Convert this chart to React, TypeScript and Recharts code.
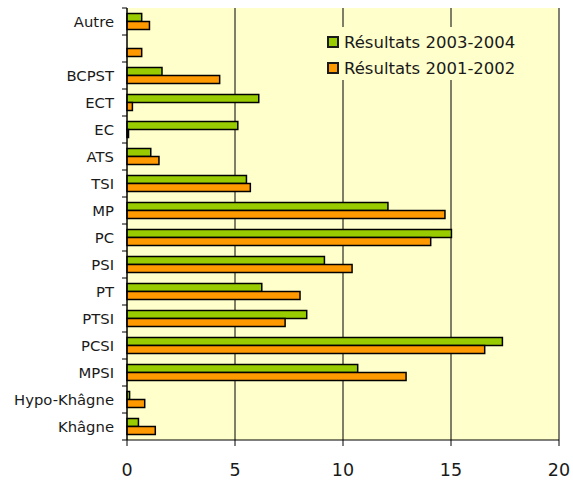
import React from 'react';
import { BarChart, Bar, XAxis, YAxis, CartesianGrid } from 'recharts';

const categories = ['Autre', ' ', 'BCPST', 'ECT', 'EC', 'ATS', 'TSI', 'MP', 'PC', 'PSI', 'PT', 'PTSI', 'PCSI', 'MPSI', 'Hypo-Khâgne', 'Khâgne'];
const results2003 = [0.68, 0, 1.62, 6.1, 5.13, 1.1, 5.53, 12.08, 15.02, 9.14, 6.24, 8.32, 17.38, 10.68, 0.12, 0.53];
const results2001 = [1.04, 0.68, 4.29, 0.25, 0.07, 1.48, 5.71, 14.72, 14.06, 10.42, 8.01, 7.32, 16.56, 12.92, 0.82, 1.31];
const xTicks = [0, 5, 10, 15, 20];
const seriesNames = ['Résultats 2003-2004', 'Résultats 2001-2002'];
const seriesColors = ['#99CC00', '#FF9900'];

const data = categories.map((name, i) => ({ name, a: results2003[i], b: results2001[i] }));

const FONT = '"DejaVu Sans", Verdana, sans-serif';

function YTick(props: any) {
  const { x, y, payload, index } = props;
  const half = typeof payload?.offset === 'number' && payload.offset > 0 ? payload.offset : 13.5;
  const last = index === categories.length - 1;
  return (
    <g>
      <text x={x} y={y} dy="0.355em" textAnchor="end" fontFamily={FONT} fontSize={14.8} fill="#1a1a1a">
        {payload.value}
      </text>
      <line x1={x + 8} x2={x + 13} y1={y - half} y2={y - half} stroke="#000" strokeWidth={1} />
      {last && <line x1={x + 8} x2={x + 13} y1={y + half} y2={y + half} stroke="#000" strokeWidth={1} />}
    </g>
  );
}

export default function App() {
  return (
    <div style={{ position: 'absolute', left: 0, top: 0, width: 573, height: 480 }}>
      <BarChart
        width={573}
        height={480}
        data={data}
        layout="vertical"
        margin={{ top: 8, right: 14, bottom: 0, left: 0 }}
        barCategoryGap="20%"
        barGap={0}
      >
        <CartesianGrid
          xAxisId="main"
          yAxisId="main"
          horizontal={false}
          vertical={true}
          stroke="#000"
          strokeWidth={1}
          fill="#FFFFCC"
          fillOpacity={1}
        />
        <XAxis
          xAxisId="main"
          type="number"
          domain={[0, 20]}
          ticks={xTicks}
          height={40}
          axisLine={{ stroke: '#000' }}
          tickLine={{ stroke: '#000' }}
          tickSize={6}
          tickMargin={18}
          tick={{ fontSize: 17.5, fontFamily: FONT, fill: '#1a1a1a' }}
          interval={0}
        />
        <XAxis
          xAxisId="top"
          type="number"
          domain={[0, 20]}
          orientation="top"
          height={0}
          tick={false}
          tickLine={false}
          axisLine={{ stroke: '#b3b3b3', strokeWidth: 1.5 }}
        />
        <YAxis
          yAxisId="main"
          type="category"
          dataKey="name"
          width={127}
          axisLine={{ stroke: '#000' }}
          tickLine={false}
          tickSize={0}
          tickMargin={13}
          tick={<YTick />}
          interval={0}
        />
        <YAxis
          yAxisId="right"
          type="category"
          dataKey="name"
          orientation="right"
          width={0}
          tick={false}
          tickLine={false}
          axisLine={{ stroke: '#b3b3b3', strokeWidth: 2 }}
        />
        <Bar
          xAxisId="main"
          yAxisId="main"
          dataKey="a"
          name={seriesNames[0]}
          fill={seriesColors[0]}
          stroke="#000"
          strokeWidth={1.5}
          isAnimationActive={false}
        />
        <Bar
          xAxisId="main"
          yAxisId="main"
          dataKey="b"
          name={seriesNames[1]}
          fill={seriesColors[1]}
          stroke="#000"
          strokeWidth={1.5}
          isAnimationActive={false}
        />
      </BarChart>
      <div
        style={{
          position: 'absolute',
          left: 322,
          top: 27,
          width: 204,
          height: 53,
          background: '#FFFFCC',
          fontFamily: FONT,
          fontSize: 16.5,
          color: '#1a1a1a',
        }}
      >
        {seriesNames.map((n, i) => (
          <div
            key={n}
            style={{ position: 'absolute', left: 5, top: 2 + i * 26, height: 26, display: 'flex', alignItems: 'center', whiteSpace: 'nowrap' }}
          >
            <span
              style={{
                display: 'inline-block',
                width: 8,
                height: 8,
                border: '2px solid #1a1a1a',
                background: seriesColors[i],
                marginRight: 5,
              }}
            />
            <span>{n}</span>
          </div>
        ))}
      </div>
    </div>
  );
}
